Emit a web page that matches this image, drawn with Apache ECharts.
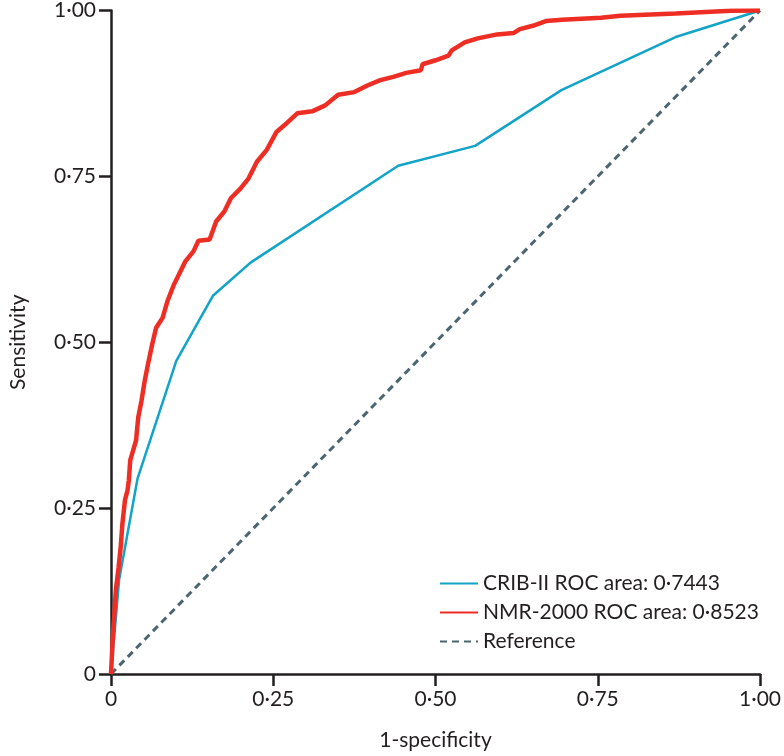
<!DOCTYPE html>
<html><head><meta charset="utf-8">
<script src="https://cdn.jsdelivr.net/npm/echarts@6/dist/echarts.min.js"></script>
<style>html,body{margin:0;padding:0;background:#fff}#c{width:784px;height:756px}</style>
</head><body><div id="c"></div>
<script>
var seriesNames = ['CRIB-II ROC area: 0·7443', 'NMR-2000 ROC area: 0·8523', 'Reference'];
var cribX = [0, 0.0125, 0.041, 0.1006, 0.157, 0.215, 0.4425, 0.561, 0.694, 0.870, 1];
var cribY = [0, 0.142, 0.295, 0.472, 0.570, 0.620, 0.766, 0.796, 0.880, 0.960, 1];
var nmrX = [0, 0.0026, 0.0075, 0.0116, 0.015, 0.0176, 0.0215, 0.0255, 0.0275, 0.0296, 0.0386, 0.042, 0.047, 0.052, 0.057, 0.0635, 0.0695, 0.0796, 0.087, 0.097, 0.1047, 0.1146, 0.127, 0.1347, 0.152, 0.162, 0.1746, 0.1847, 0.1997, 0.212, 0.2248, 0.24, 0.255, 0.267, 0.287, 0.31, 0.33, 0.35, 0.375, 0.395, 0.415, 0.435, 0.455, 0.4775, 0.48, 0.50, 0.52, 0.525, 0.545, 0.565, 0.595, 0.62, 0.63, 0.65, 0.67, 0.695, 0.755, 0.785, 0.87, 0.955, 1];
var nmrY = [0, 0.052, 0.127, 0.160, 0.192, 0.227, 0.262, 0.277, 0.292, 0.322, 0.352, 0.387, 0.412, 0.442, 0.467, 0.497, 0.522, 0.537, 0.562, 0.587, 0.602, 0.622, 0.637, 0.653, 0.655, 0.682, 0.697, 0.717, 0.732, 0.747, 0.772, 0.790, 0.817, 0.827, 0.845, 0.848, 0.857, 0.873, 0.877, 0.887, 0.895, 0.900, 0.906, 0.910, 0.919, 0.925, 0.932, 0.940, 0.952, 0.958, 0.964, 0.966, 0.972, 0.977, 0.984, 0.986, 0.989, 0.992, 0.9955, 0.9995, 1];
var refX = [0, 1];
var refY = [0, 1];
var tickValues = [0, 0.25, 0.5, 0.75, 1];

function zip(a, b) { return a.map(function (v, i) { return [v, b[i]]; }); }
function fmt(v) { return v === 0 ? '0' : v.toFixed(2).replace('.', '·'); }

var FONT = 'Lato';
var TXT = '#231f20';
var axisCommon = {
  type: 'value', min: 0, max: 1, interval: 0.25,
  axisLine: { show: true, lineStyle: { color: TXT, width: 2.5 } },
  axisTick: { show: true, inside: false, length: 12, lineStyle: { color: TXT, width: 2.5 } },
  splitLine: { show: false },
  axisLabel: { color: TXT, fontFamily: FONT, fontSize: 21, formatter: fmt },
  nameTextStyle: { color: TXT, fontFamily: FONT, fontSize: 21 },
  nameLocation: 'middle'
};

var chart = echarts.init(document.getElementById('c'), null, { renderer: 'canvas' });
chart.setOption({
  animation: false,
  backgroundColor: '#fff',
  grid: { left: 97, right: 21, top: 8, bottom: 81, containLabel: false },
  xAxis: Object.assign({}, axisCommon, { name: '1-specificity', nameGap: 56, axisLabel: Object.assign({}, axisCommon.axisLabel, { margin: 15 }) }),
  yAxis: Object.assign({}, axisCommon, { name: 'Sensitivity', nameGap: 82, axisLabel: Object.assign({}, axisCommon.axisLabel, { margin: 15 }) }),
  legend: {
    orient: 'vertical', left: 434, top: 568, itemWidth: 38, itemHeight: 14, itemGap: 8,
    itemStyle: { opacity: 0 },
    textStyle: { color: TXT, fontFamily: FONT, fontSize: 21, lineHeight: 21 },
    data: seriesNames
  },
  series: [
    { name: seriesNames[0], type: 'line', data: zip(cribX, cribY), symbol: 'none', z: 3,
      lineStyle: { color: '#12a4c6', width: 2.5 }, itemStyle: { color: '#12a4c6' } },
    { name: seriesNames[1], type: 'line', data: zip(nmrX, nmrY), symbol: 'none', z: 4,
      lineStyle: { color: '#ee2e24', width: 4.5 }, itemStyle: { color: '#ee2e24' } },
    { name: seriesNames[2], type: 'line', data: zip(refX, refY), symbol: 'none', z: 2,
      lineStyle: { color: '#4b6571', width: 3, type: [7, 5] }, itemStyle: { color: '#4b6571' } }
  ]
});
</script></body></html>
